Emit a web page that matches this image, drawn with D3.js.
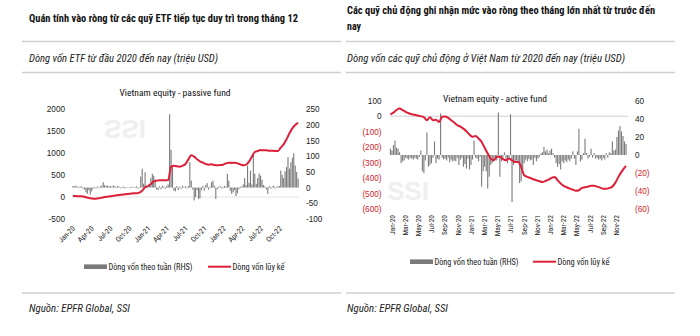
<!DOCTYPE html>
<html>
<head>
<meta charset="utf-8">
<script src="https://cdn.jsdelivr.net/npm/d3@7"></script>
<style>
  html, body { margin: 0; padding: 0; background: #fff; }
  svg { display: block; font-family: "Liberation Sans Narrow", "Arial Narrow", "Roboto Condensed", "Liberation Sans", Arial, sans-serif; }
</style>
</head>
<body>
<svg id="chart" width="700" height="336"></svg>
<script>
// ---- Passive (ETF) funds: weekly flows (RHS) and cumulative flow, USD mn ----
const passiveWeekly = [
  5, 4, 6, 3, -2, 4, 3, -3, -6, -15, -20, -8, -22,
  -12, -4, 2, -3, 3, -2, 4, 6, 17, 8, 5, 6, 4,
  5, 3, 7, 4, 2, 5, 3, -2, 2, 3, -3, 2, 1,
  -2, 2, 3, -1, 2, 4, -3, 2, 35, 60, 12, 49, 5,
  3, 8, 30, 44, 38, 25, -6, -8, 4, -5, 6, 3, -4,
  5, 10, 233, 120, 70, -10, -12, 5, -8, 3, -4, 6, 2,
  4, -3, 5, 81, 22, -6, -41, -30, -8, -36, -34, -8, 5,
  -10, 8, 14, -6, 3, 17, 22, 6, -36, -5, 3, 4, -3,
  2, 5, 3, 44, 22, -10, -20, -15, -8, -27, -18, -5, 3,
  3, 10, 30, 8, 70, 15, 54, 10, 107, 44, 12, 30, 45,
  38, 25, 8, 4, -6, -20, 5, -4, 3, 6, -3, 2, 4,
  5, 54, 40, 30, 52, 65, 97, 60, 80, 95, 109, 70, 50, 29
];
// cumulative flow, read every second week
const passiveCumulative = [
  20, 20, 15, 15, 8, -15, -30, -38, -38, -30,
  -15, 0, 8, 15, 30, 38, 45, 53, 61, 68,
  76, 83, 83, 98, 144, 220, 250, 295, 356, 371,
  379, 379, 379, 386, 690, 712, 697, 690, 712, 750,
  856, 947, 917, 856, 811, 780, 750, 735, 742, 727,
  720, 727, 735, 765, 780, 773, 780, 765, 742, 720,
  735, 803, 917, 1023, 1045, 1068, 1061, 1061, 1053, 1053,
  1045, 1045, 1121, 1197, 1311, 1447, 1561, 1636, 1689
];
const passiveTickLabels = ["Jan-20","Apr-20","Jul-20","Oct-20","Jan-21","Apr-21","Jul-21","Oct-21","Jan-22","Apr-22","Jul-22","Oct-22"];
const passiveLeftTicks = [2000, 1500, 1000, 500, 0, -500];
const passiveRightTicks = [250, 200, 150, 100, 50, 0, -50, -100];

// ---- Active funds: weekly flows (RHS) and cumulative flow, USD mn ----
const activeWeekly = [
  7, 5, 11, 16, 8, 7, 3, -9, -7, -6,
  -3, -4, -5, -3, -4, -5, -3, -4, -5, -2,
  5, -18, -20, -6, 25, -13, -11, -9, -3, 15,
  -9, -4, -5, 46, -3, -5, -4, -6, -3, -8,
  -5, -7, -6, -7, -3, -11, -5, -3, -13, -10,
  -15, -4, -16, -11, -5, 16, -3, -4, -7, -2,
  -35, -18, -13, -18, -37, -24, -11, -9, -7, -5,
  -6, 47, -24, -7, -4, 3, -5, -9, -3, 45,
  -52, -11, -7, -6, -7, -31, -29, -16, -9, -5,
  -7, -4, -6, -5, -11, -3, -7, -4, -2, 2,
  3, 9, 4, 6, 2, 5, 7, 2, -3, -9,
  -13, -10, -16, -7, -9, -6, -8, -5, -7, -4,
  4, -4, -11, 4, 29, -7, -5, 2, 18, 2,
  -4, -2, 7, -3, 2, -4, -3, -5, -4, -6,
  -3, -5, 2, -3, 3, 2, 15, 5, 6, 20,
  27, 32, 26, 21, 15, 12
];
// cumulative flow, read every second week, plus the final week
const activeCumulative = [
  11, 24, 40, 49, 40, 28, 19, 13, 9, 4,
  0, -6, -26, -6, -26, -22, -37, -4, -2, -11,
  -26, -41, -58, -67, -80, -97, -118, -133, -127, -144,
  -166, -204, -241, -273, -284, -262, -262, -277, -284, -273,
  -284, -295, -295, -327, -381, -391, -398, -406, -413, -419,
  -424, -417, -409, -398, -391, -413, -434, -449, -458, -467,
  -473, -480, -477, -462, -458, -454, -449, -449, -454, -460,
  -467, -467, -462, -454, -428, -391, -359, -331, -320
];
const activeTickLabels = ["Jan-20","Mar-20","May-20","Jul-20","Sep-20","Nov-20","Jan-21","Mar-21","May-21","Jul-21","Sep-21","Nov-21","Jan-22","Mar-22","May-22","Jul-22","Sep-22","Nov-22"];
const activeLeftTicks = [100, 0, -100, -200, -300, -400, -500, -600];
const activeRightTicks = [60, 40, 20, 0, -20, -40, -60];

const legendLabels = ["Dòng vốn theo tuần (RHS)", "Dòng vốn lũy kế"];

const RED = "#dd1f3a";
const GREY_BAR = "#7a7a7a";
const RULE = "#cfcfcf";

const svg = d3.select("#chart");
svg.append("rect").attr("width", 700).attr("height", 336).attr("fill", "#fff");

const firstWeek = new Date(2020, 0, 3);
const weekDate = i => d3.timeDay.offset(firstWeek, 7 * i);
const domainX = [new Date(2020, 0, 1), new Date(2023, 0, 1)];

// ---------- header / footer text blocks ----------
function rule(x1, x2, y) {
  svg.append("line").attr("x1", x1).attr("x2", x2).attr("y1", y).attr("y2", y)
    .attr("stroke", RULE).attr("stroke-width", 1.3);
}
function label(txt, x, y, opts) {
  const t = svg.append("text").attr("x", x).attr("y", y).text(txt)
    .attr("font-size", opts.size).attr("fill", opts.fill || "#111");
  if (opts.bold) t.attr("font-weight", "bold");
  if (opts.italic) t.attr("font-style", "italic");
  if (opts.anchor) t.attr("text-anchor", opts.anchor);
  if (opts.len) t.attr("textLength", opts.len).attr("lengthAdjust", "spacingAndGlyphs");
  return t;
}

label("Quán tính vào ròng từ các quỹ ETF tiếp tục duy trì trong tháng 12", 29, 21.5, {size: 10.5, bold: true, len: 269});
label("Các quỹ chủ động ghi nhận mức vào ròng theo tháng lớn nhất từ trước đến", 347, 13.5, {size: 10.5, bold: true, len: 308});
label("nay", 347, 29.5, {size: 10.5, bold: true, len: 14});
rule(22, 341, 41.5); rule(346, 675, 41.5);
label("Dòng vốn ETF từ đầu 2020 đến nay (triệu USD)", 29, 61.5, {size: 10.5, italic: true, fill: "#222", len: 189});
label("Dòng vốn các quỹ chủ động ở Việt Nam từ 2020 đến nay (triệu USD)", 347, 61.5, {size: 10.5, italic: true, fill: "#222", len: 278});
rule(22, 341, 72.5); rule(346, 675, 72.5);
rule(22, 341, 293); rule(346, 675, 293);
label("Nguồn: EPFR Global, SSI", 29, 311.5, {size: 10.5, italic: true, fill: "#222", len: 101});
label("Nguồn: EPFR Global, SSI", 347, 311.5, {size: 10.5, italic: true, fill: "#222", len: 101});

// ---------- generic panel ----------
function panel(cfg) {
  const g = svg.append("g");
  const x = d3.scaleTime().domain(domainX).range(cfg.xRange);
  const yL = d3.scaleLinear().domain(cfg.leftDomain).range(cfg.yRange);
  const yR = d3.scaleLinear().domain(cfg.rightDomain).range(cfg.yRange);

  // faint watermark
  g.append("text").attr("transform", cfg.markTransform)
    .attr("font-family", "Liberation Sans, Arial, sans-serif").attr("font-weight", "bold")
    .attr("font-size", 26).attr("fill", "#efefef").text("SSI");

  // title
  g.append("text").attr("x", cfg.titleX).attr("y", cfg.titleY).attr("text-anchor", "middle")
    .attr("font-size", 9).attr("fill", "#111").text(cfg.title)
    .attr("textLength", cfg.titleLen).attr("lengthAdjust", "spacingAndGlyphs");

  // zero reference line on the left axis
  g.append("line").attr("x1", cfg.xRange[0]).attr("x2", cfg.xRange[1])
    .attr("y1", yL(0)).attr("y2", yL(0)).attr("stroke", cfg.zeroColor).attr("stroke-width", 1);

  // weekly bars (right axis)
  g.append("g").selectAll("rect").data(cfg.weekly).join("rect")
    .attr("x", (d, i) => x(weekDate(i)) - 0.55)
    .attr("width", 1.1)
    .attr("y", d => Math.min(yR(d), yR(0)))
    .attr("height", d => Math.abs(yR(d) - yR(0)))
    .attr("fill", GREY_BAR);

  // cumulative line (left axis)
  const pts = cfg.cumulative.map((v, i) => [cfg.cumWeek(i), v]);
  g.append("path").datum(pts)
    .attr("d", d3.line().x(d => x(weekDate(d[0]))).y(d => yL(d[1])).curve(d3.curveMonotoneX))
    .attr("fill", "none").attr("stroke", RED).attr("stroke-width", 2).attr("stroke-linejoin", "round");

  // y axes (labels only)
  const axL = g.append("g").attr("transform", `translate(${cfg.leftLabelX},0)`)
    .call(d3.axisLeft(yL).tickValues(cfg.leftTicks).tickSize(0).tickPadding(0).tickFormat(cfg.fmt));
  const axR = g.append("g").attr("transform", `translate(${cfg.rightLabelX},0)`)
    .call(d3.axisRight(yR).tickValues(cfg.rightTicks).tickSize(0).tickPadding(0).tickFormat(cfg.fmt));
  [axL, axR].forEach(a => {
    a.select(".domain").remove();
    a.selectAll("text").attr("font-size", 8.2).attr("font-family", null)
      .attr("fill", d => cfg.colorNeg && d < 0 ? "#d2232a" : "#222");
  });

  // x tick labels
  const tg = g.append("g");
  cfg.tickLabels.forEach((lab, i) => {
    const dx = x(d3.timeMonth.offset(domainX[0], i * cfg.tickStep));
    tg.append("text")
      .attr("transform", `translate(${dx + cfg.tickDx},${cfg.tickY}) rotate(${cfg.tickRotate})`)
      .attr("text-anchor", "end").attr("font-size", 7.4).attr("fill", "#222").text(lab);
  });

  // legend
  const lg = g.append("g");
  lg.append("rect").attr("x", cfg.legendX[0]).attr("y", cfg.legendY - 2.3).attr("width", 23).attr("height", 4.6).attr("fill", GREY_BAR);
  lg.append("text").attr("x", cfg.legendX[0] + 24.5).attr("y", cfg.legendY + 3).attr("font-size", 8.4).attr("fill", "#222")
    .text(legendLabels[0]).attr("textLength", 84).attr("lengthAdjust", "spacingAndGlyphs");
  lg.append("line").attr("x1", cfg.legendX[1]).attr("x2", cfg.legendX[1] + 23).attr("y1", cfg.legendY).attr("y2", cfg.legendY)
    .attr("stroke", RED).attr("stroke-width", 2);
  lg.append("text").attr("x", cfg.legendX[1] + 24.5).attr("y", cfg.legendY + 3).attr("font-size", 8.4).attr("fill", "#222")
    .text(legendLabels[1]).attr("textLength", 52).attr("lengthAdjust", "spacingAndGlyphs");
}

const plain = d => String(d);
const paren = d => d < 0 ? `(${-d})` : String(d);

panel({
  title: "Vietnam equity - passive fund", titleX: 175, titleY: 96, titleLen: 111,
  xRange: [72.5, 298.5], yRange: [219, 109],
  leftDomain: [-500, 2000], rightDomain: [-100, 250],
  weekly: passiveWeekly, cumulative: passiveCumulative, cumWeek: i => 2 * i,
  leftTicks: passiveLeftTicks, rightTicks: passiveRightTicks,
  leftLabelX: 65, rightLabelX: 306, fmt: plain, colorNeg: false,
  zeroColor: "#e4e4e4",
  tickLabels: passiveTickLabels, tickStep: 3, tickDx: 3, tickY: 229, tickRotate: -45,
  legendX: [84, 208], legendY: 266.7,
  markTransform: "translate(104,120) scale(1,-1)"
});

panel({
  title: "Vietnam equity - active fund", titleX: 495, titleY: 101.5, titleLen: 104,
  xRange: [390, 628], yRange: [209.3, 100.7],
  leftDomain: [-600, 100], rightDomain: [-60, 60],
  weekly: activeWeekly, cumulative: activeCumulative,
  cumWeek: i => Math.min(2 * i, activeWeekly.length - 1),
  leftTicks: activeLeftTicks, rightTicks: activeRightTicks,
  leftLabelX: 381.5, rightLabelX: 635, fmt: paren, colorNeg: true,
  zeroColor: "#cfcfcf",
  tickLabels: activeTickLabels, tickStep: 2, tickDx: 4.5, tickY: 215, tickRotate: -90,
  legendX: [410, 533], legendY: 261.7,
  markTransform: "translate(387,200)"
});
</script>
</body>
</html>
